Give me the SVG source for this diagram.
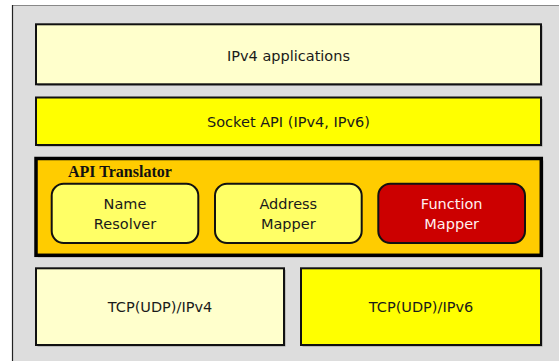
<svg xmlns="http://www.w3.org/2000/svg" width="559" height="361" viewBox="0 0 559 361">
<style>
.box{stroke:#111;stroke-width:2}
.sh{fill:#999}
.lbl{font-family:"DejaVu Sans",Verdana,sans-serif;font-size:14.5px;fill:#1a1a1a;text-anchor:middle}
.title{font-family:"Liberation Serif","Times New Roman",serif;font-weight:bold;font-size:16px;fill:#111}
</style>
<rect x="0" y="0" width="559" height="361" fill="#ffffff"/>
<g id="frame">
<rect x="12.5" y="5.5" width="550" height="360" fill="#dddddd"/>
<line x1="12.5" y1="5.5" x2="559" y2="5.5" stroke="#888" stroke-width="1"/>
<line x1="12.5" y1="5" x2="12.5" y2="361" stroke="#222" stroke-width="1.2"/>
</g>
<g id="ipv4-apps">
<rect class="sh" x="37.5" y="25.8" width="505" height="60"/>
<rect class="box" x="36" y="24.3" width="505" height="60" fill="#ffffcc"/>
<text class="lbl" x="288.5" y="60.5">IPv4 applications</text>
</g>
<g id="socket-api">
<rect class="sh" x="37.5" y="99" width="505" height="47.5"/>
<rect class="box" x="36" y="97.5" width="505" height="47.5" fill="#ffff00"/>
<text class="lbl" x="288.5" y="126.5">Socket API (IPv4, IPv6)</text>
</g>
<g id="api-translator">
<rect class="sh" x="38" y="160.5" width="505.3" height="96.8"/>
<rect x="36" y="158.5" width="505.3" height="96.8" fill="#ffcc00" stroke="#000" stroke-width="3.5"/>
<text class="title" x="68" y="176.6">API Translator</text>
</g>
<g id="name-resolver">
<rect class="box" x="51.7" y="183.7" width="146.6" height="59.3" rx="12" fill="#ffff66"/>
<text class="lbl" x="125" y="209.3">Name</text>
<text class="lbl" x="125" y="229.3">Resolver</text>
</g>
<g id="address-mapper">
<rect class="box" x="215" y="183.7" width="146.7" height="59.3" rx="12" fill="#ffff66"/>
<text class="lbl" x="288.3" y="209.3">Address</text>
<text class="lbl" x="288.3" y="229.3">Mapper</text>
</g>
<g id="function-mapper">
<rect class="box" x="378.3" y="183.7" width="146.7" height="59.3" rx="12" fill="#cc0000"/>
<text class="lbl" x="451.7" y="209.3" style="fill:#fff0f0">Function</text>
<text class="lbl" x="451.7" y="229.3" style="fill:#fff0f0">Mapper</text>
</g>
<g id="tcp-ipv4">
<rect class="sh" x="37.5" y="269.8" width="248" height="76.7"/>
<rect class="box" x="36" y="268.3" width="248" height="76.7" fill="#ffffcc"/>
<text class="lbl" x="160" y="312.3">TCP(UDP)/IPv4</text>
</g>
<g id="tcp-ipv6">
<rect class="sh" x="302.5" y="269.8" width="240" height="76.7"/>
<rect class="box" x="301" y="268.3" width="240" height="76.7" fill="#ffff00"/>
<text class="lbl" x="421" y="312.3">TCP(UDP)/IPv6</text>
</g>
<g id="connectors"></g>
</svg>
